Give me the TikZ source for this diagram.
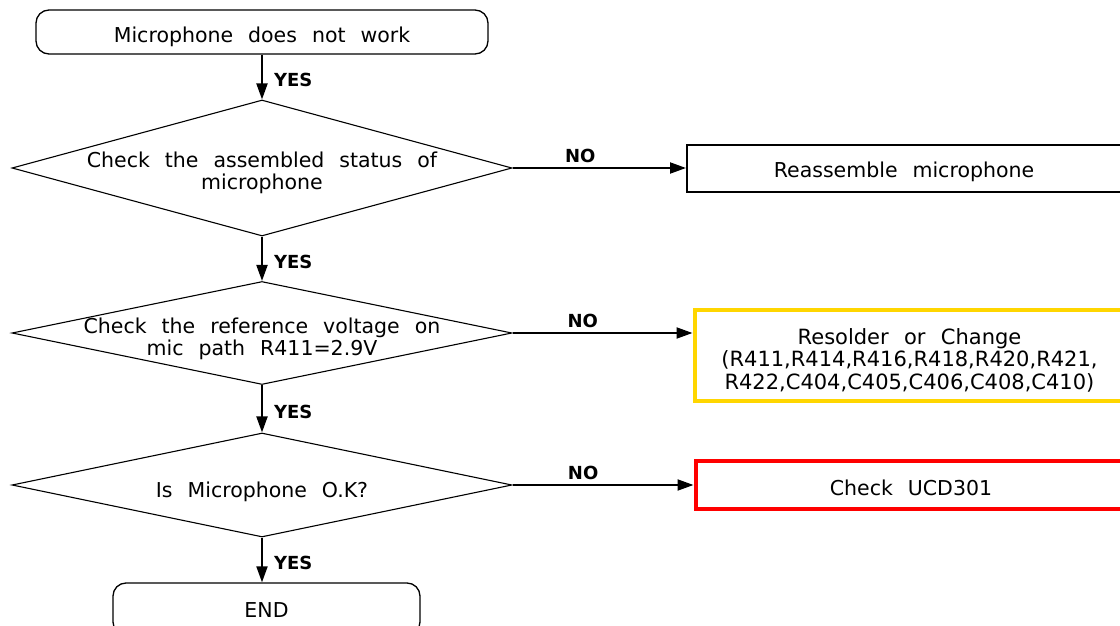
\documentclass[tikz,border=0pt]{standalone}
\usepackage{fontspec}
\setmainfont{DejaVu Sans}[WordSpace=2.3]
\usepackage{tikz}
\usetikzlibrary{shapes.geometric,arrows.meta}
\definecolor{chkyellow}{RGB}{255,214,0}
\newcommand{\lowtext}[2]{\raisebox{-#1}[0pt][0pt]{\makebox[0pt]{\begin{tabular}{@{}c@{}}#2\end{tabular}}}}

\begin{document}
\begin{tikzpicture}[x=1pt, y=1pt,
		font=\fontsize{20.5}{21.5}\selectfont,
		term/.style={draw, line width=1.3pt, rounded corners=13pt, inner sep=0pt},
		dec/.style={draw, diamond, line width=1.1pt, inner sep=0pt, minimum width=500pt},
		act/.style={draw, line width=2pt, inner sep=0pt},
		arr/.style={-{Triangle[length=16pt,width=11pt]}, line width=2pt},
		yn/.style={font=\fontsize{18}{18}\selectfont\bfseries, inner sep=3pt}]
		\useasboundingbox (0,0) rectangle (1120,-626);
		\clip (0,0) rectangle (1120,-626);
		\node[term, minimum width=452pt, minimum height=44pt] (S) at (262,-32) {\lowtext{11.5pt}{Microphone does not work}};
		\node[dec, minimum height=136pt] (C1) at (262,-168) {\lowtext{11pt}{Check the assembled status of\\microphone}};
		\node[act, minimum width=434pt, minimum height=47pt] (A1) at (904,-168) {\lowtext{10pt}{Reassemble microphone}};
		\node[dec, minimum height=103pt] (C2) at (262,-333) {\lowtext{12.5pt}{Check the reference voltage on\\mic path R411=2.9V}};
		\node[act, draw=chkyellow, line width=4pt, minimum width=430pt, minimum height=91pt, font=\fontsize{21}{21.5}\selectfont] (A2) at (909.5,-355) {\lowtext{12.3pt}{Resolder or Change\\(R411,R414,R416,R418,R420,R421,\\R422,C404,C405,C406,C408,C410)}};
		\node[dec, minimum height=104pt] (C3) at (262,-485) {\lowtext{13.5pt}{Is Microphone O.K?}};
		\node[act, draw=red, line width=4pt, minimum width=431pt, minimum height=48.5pt] (A3) at (911,-485) {\lowtext{11pt}{Check UCD301}};
		\node[term, minimum width=307pt, minimum height=52pt] (E) at (266.5,-609) {\lowtext{9.8pt}{END}};
		% yes branch
		\draw[arr](S) to node [yn, right=8pt, pos=0.57]{YES}(C1);
		\draw[arr](C1) to node [yn, right=8pt, pos=0.57]{YES}(C2);
		\draw[arr](C2) to node [yn, right=8pt, pos=0.57]{YES}(C3);
		\draw[arr](C3) to node [yn, right=8pt, pos=0.57]{YES}(C3 |- E.north);
		% no branch
		\draw[arr](C1) to node [yn, above=1pt, pos=0.39]{NO}(A1);
		\draw[arr](C2) to node [yn, above=1pt, pos=0.39]{NO}(C2 -| A2.west);
		\draw[arr](C3) to node [yn, above=1pt, pos=0.39]{NO}(A3);
		\end{tikzpicture}
\end{document}
